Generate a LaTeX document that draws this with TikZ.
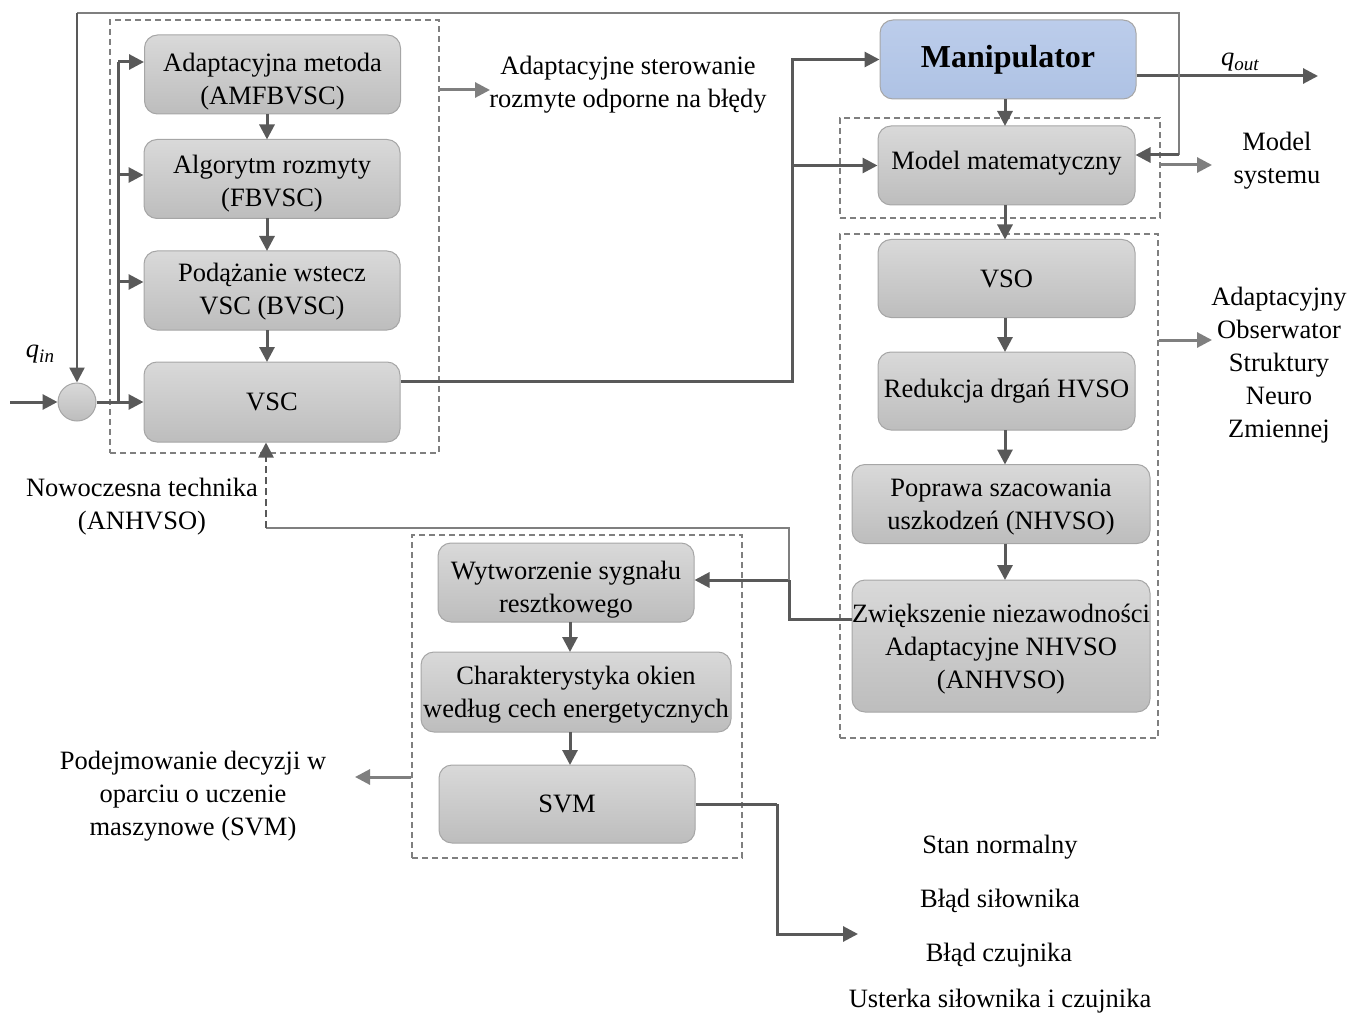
\documentclass[tikz,border=0pt]{standalone}
\usepackage{fontspec}
\setmainfont{Liberation Serif}
\usetikzlibrary{arrows.meta}
\definecolor{arrgray}{HTML}{595959}
\definecolor{lgray}{HTML}{7F7F7F}
\definecolor{bordgray}{HTML}{A6A6A6}
\definecolor{boxtop}{HTML}{D9D9D9}
\definecolor{boxbot}{HTML}{BDBDBD}
\definecolor{mantop}{HTML}{BCCDEB}
\definecolor{manbot}{HTML}{AEC2E4}
\newcommand{\qsym}[1]{\textit{q}\raisebox{-5pt}{\fontsize{19}{20}\selectfont\textit{#1}}}
\begin{document}
\begin{tikzpicture}[x=1pt,y=-1pt,
  every node/.style={font=\fontsize{26.5}{33}\selectfont, align=center, text=black},
  blk/.style={draw=bordgray, line width=1pt, rounded corners=13pt,
    top color=boxtop, bottom color=boxbot, inner sep=0pt},
  manbox/.style={draw=bordgray, line width=1pt, rounded corners=13pt,
    top color=mantop, bottom color=manbot, inner sep=0pt},
  grp/.style={draw=lgray, line width=1.3pt, dash pattern=on 6pt off 4pt, inner sep=0pt},
  arr/.style={draw=arrgray, line width=3pt, -{Triangle[length=15pt,width=15pt]}},
  flow/.style={draw=arrgray, line width=3pt},
  garr/.style={draw=lgray, line width=3pt, -{Triangle[length=15pt,width=15pt]}},
  thinl/.style={draw=lgray, line width=1.4pt},
  dasharr/.style={draw=arrgray, line width=2.4pt, dash pattern=on 7pt off 4pt,
    -{Triangle[length=15pt,width=15pt]}},
]
\useasboundingbox (0,0) rectangle (1349,1016);

% dashed group frames
\node[grp, minimum width=329pt, minimum height=433pt] (g1) at (274.5,236.5) {};
\node[grp, minimum width=320pt, minimum height=100pt] (g2) at (1000,168) {};
\node[grp, minimum width=318pt, minimum height=504pt] (g3) at (999,486) {};
\node[grp, minimum width=330pt, minimum height=323pt] (g4) at (577,696.5) {};

% controller chain
\node[blk, minimum width=256pt, minimum height=79pt] (amf) at (272.5,74.5) {};
\node (amft) at ([yshift=-7pt]amf.center) {Adaptacyjna metoda\\(AMFBVSC)};
\node[blk, minimum width=256pt, minimum height=79pt] (fb) at (272,179) {};
\node (fbt) at ([yshift=-5pt]fb.center) {Algorytm rozmyty\\(FBVSC)};
\node[blk, minimum width=256pt, minimum height=79pt] (bv) at (272,290.5) {};
\node (bvt) at ([yshift=-1pt]bv.center) {Podążanie wstecz\\VSC (BVSC)};
\node[blk, minimum width=256pt, minimum height=80pt] (vsc) at (272,402) {VSC};

% summing junction
\node[circle, draw=bordgray, line width=1pt, top color=boxtop, bottom color=boxbot,
  minimum size=38pt, inner sep=0pt] (sum) at (77,402) {};

% plant and model
\node[manbox, minimum width=256pt, minimum height=79pt,
  font=\fontsize{32}{36}\selectfont\bfseries] (manip) at (1008,59.5) {Manipulator};
\node[blk, minimum width=257pt, minimum height=79pt] (model) at (1006.5,165.5) {};
\node (modelt) at ([yshift=2pt]model.center) {Model matematyczny};

% observer chain
\node[blk, minimum width=257pt, minimum height=78pt] (vso) at (1006.5,278.5) {VSO};
\node[blk, minimum width=257pt, minimum height=78pt] (hvso) at (1006.5,391) {Redukcja drgań HVSO};
\node[blk, minimum width=298pt, minimum height=79pt] (nhvso) at (1001,504) {};
\node (nhvsot) at ([yshift=-3pt]nhvso.center) {Poprawa szacowania\\uszkodzeń (NHVSO)};
\node[blk, minimum width=298pt, minimum height=132pt] (zw) at (1001,646) {};
\node (zwt) at ([yshift=-3pt]zw.center) {Zwiększenie niezawodności\\Adaptacyjne NHVSO\\(ANHVSO)};

% diagnosis chain
\node[blk, minimum width=256pt, minimum height=79pt] (wyt) at (566,582.5) {};
\node (wytt) at ([yshift=-7pt]wyt.center) {Wytworzenie sygnału\\resztkowego};
\node[blk, minimum width=310pt, minimum height=80pt] (char) at (576,692) {};
\node (chart) at ([yshift=-3pt]char.center) {Charakterystyka okien\\według cech energetycznych};
\node[blk, minimum width=256pt, minimum height=78pt] (svm) at (567,804) {SVM};

% labels
\node (lctl) at (628,85) {Adaptacyjne sterowanie\\rozmyte odporne na błędy};
\node (lmod) at (1277,161) {Model\\systemu};
\node (lobs) at (1279,365) {Adaptacyjny\\Obserwator\\Struktury\\Neuro\\Zmiennej};
\node (lnow) at (142,507) {Nowoczesna technika\\(ANHVSO)};
\node (ldec) at (193,796) {Podejmowanie decyzji w\\oparciu o uczenie\\maszynowe (SVM)};
\node (o1) at (1000,847) {Stan normalny};
\node (o2) at (1000,901) {Błąd siłownika};
\node (o3) at (999,955) {Błąd czujnika};
\node (o4) at (1000,1001) {Usterka siłownika i czujnika};
\node (qin) at (40,354) {\qsym{in}};
\node (qout) at (1240,62) {\qsym{out}};

% coordinates for free ends and bends
\coordinate (in) at (10,402);
\coordinate (bus) at (118,402);
\coordinate (tap) at (1179,76);
\coordinate (tr) at (1179,13);
\coordinate (tl) at (77,13);
\coordinate (mfb) at (1179,155);
\coordinate (vx) at (792,381);
\coordinate (vm) at (792,165.5);
\coordinate (qend) at (1318,76);
\coordinate (fbx) at (789,580);
\coordinate (fby) at (789,528);
\coordinate (fbl) at (266,528);
\coordinate (sv) at (777,804);
\coordinate (outs) at (858,934);

% input and summing
\draw[arr] (in) -- (sum.west);
\draw[arr] (sum.east) -- (vsc.west);
\draw[flow] (bus) -- (118,62);
\draw[arr] (bus |- 0,62) -- (amf.west |- 0,62);
\draw[arr] (bus |- 0,175) -- (fb.west |- 0,175);
\draw[arr] (bus |- 0,282) -- (bv.west |- 0,282);

% controller chain arrows
\draw[arr] (267,114) -- (267,139.5);
\draw[arr] (267,218.5) -- (267,251);
\draw[arr] (267,330) -- (267,362);

% VSC output to plant and model
\draw[flow] ([yshift=21pt]vsc.east) -- (vx) -- (vm);
\draw[arr] (vm) |- (manip.west);
\draw[arr] (vm) -- (model.west);

% plant output and feedback
\draw[arr] (manip.east |- qend) -- (qend);
\draw[thinl] (tap) -- (tr) -- (tl);
\draw[arr, line width=2.4pt] (tl) -- (sum.north);
\draw[thinl] (tap) -- (mfb);
\draw[arr] (mfb) -- (model.east |- mfb);

% plant to model to observer chain
\draw[arr] (1005,99) -- (1005,126);
\draw[arr] (1005,205) -- (1005,239.5);
\draw[arr] (1005,317.5) -- (1005,352);
\draw[arr] (1005,430) -- (1005,464.5);
\draw[arr] (1005,543.5) -- (1005,580);

% group outputs
\draw[garr] (g1.east |- 0,90) -- (490,90);
\draw[garr] (g2.east |- 0,165) -- (1212,165);
\draw[garr] (g3.east |- 0,340) -- (1212,340);
\draw[garr] (g4.west |- 0,777) -- (355,777);

% observer feedback to residual generation and controller
\draw[flow] ([yshift=27pt]zw.west) -- (789,619) -- (fbx);
\draw[arr] (fbx) -- (wyt.east |- fbx);
\draw[thinl] (fbx) -- (fby) -- (fbl);
\draw[dasharr] (fbl) -- (vsc.south -| fbl);

% diagnosis chain
\draw[arr] (570,622) -- (570,652);
\draw[arr] (570,732) -- (570,765);
\draw[flow] (svm.east) -- (sv);
\draw[arr] (sv) |- (outs);
\end{tikzpicture}
\end{document}
